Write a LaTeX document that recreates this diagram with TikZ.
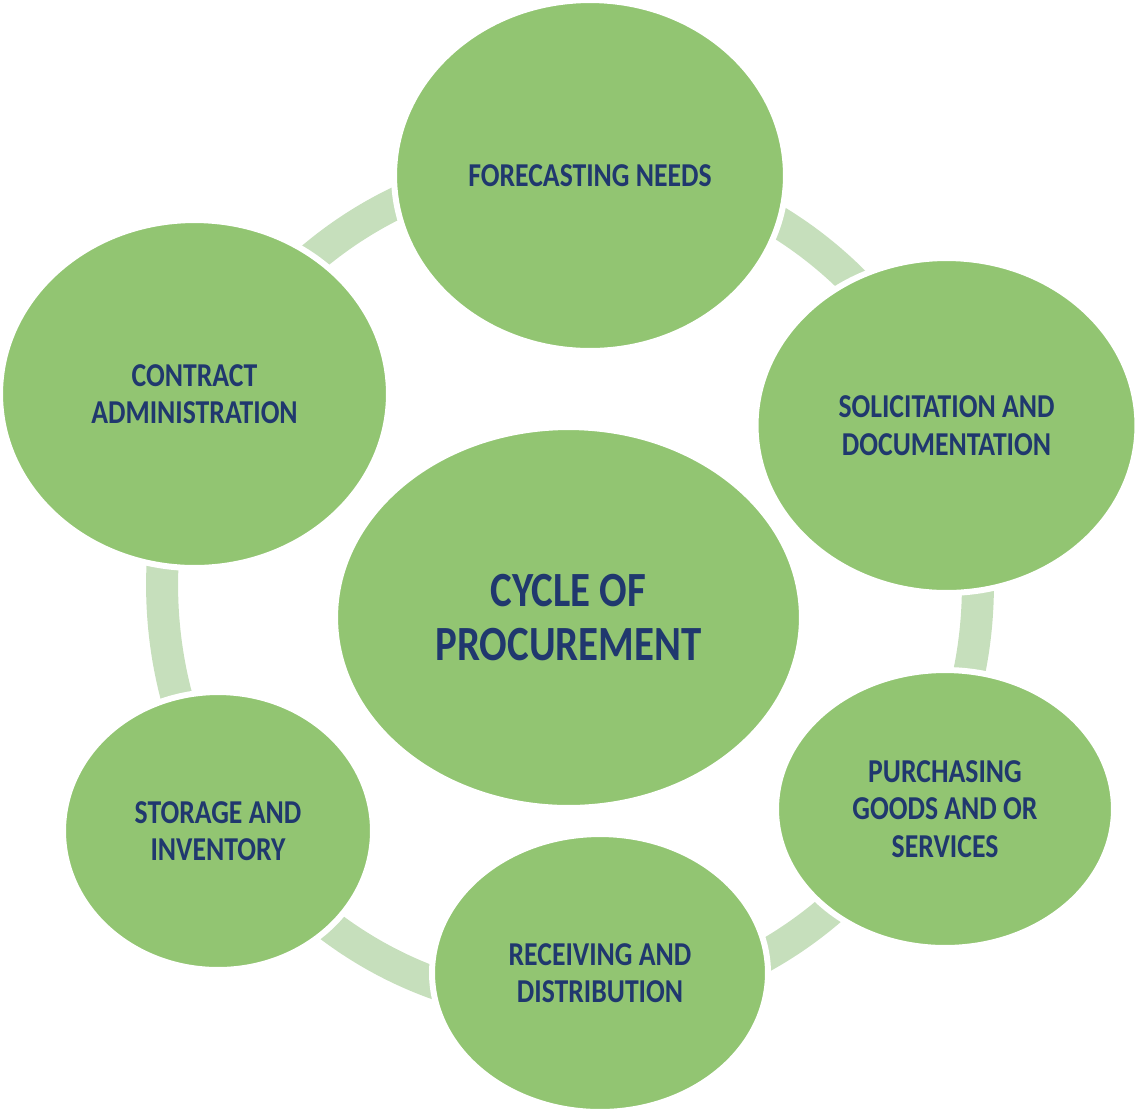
\documentclass[tikz,border=0pt]{standalone}
\usepackage{fontspec}
\newfontfamily\cyclefont{Carlito}[FakeStretch=0.83]
\usetikzlibrary{shapes.geometric}
\usetikzlibrary{backgrounds}
\definecolor{leaf}{RGB}{146,197,114}
\definecolor{pale}{RGB}{198,223,188}
\definecolor{ink}{RGB}{32,56,110}
\tikzset{
  stage/.style={ellipse, fill=leaf, draw=white, line width=0.12cm,
    inner sep=0pt, align=center, text=ink,
    font=\cyclefont\bfseries\fontsize{19}{21.3}\selectfont},
  hub/.style={stage, font=\cyclefont\bfseries\fontsize{28}{30.7}\selectfont},
  ring/.style={draw=pale, line width=0.64cm}
}

\begin{document}
\begin{tikzpicture}[x=0.02cm, y=-0.02cm]

  \useasboundingbox (0,0) rectangle (1135,1110);

  \node[hub, minimum width=9.34cm, minimum height=7.62cm]
    (hub) at (568.5,617.5) {CYCLE OF\\PROCUREMENT};

  \node[stage, minimum width=7.84cm, minimum height=7.02cm]
    (fore) at (590,175.5) {FORECASTING NEEDS};
  \node[stage, minimum width=7.64cm, minimum height=6.70cm]
    (soli) at (946.5,425.5) {SOLICITATION AND\\DOCUMENTATION};
  \node[stage, minimum width=6.76cm, minimum height=5.56cm]
    (purch) at (945,809) {PURCHASING\\GOODS AND OR\\SERVICES};
  \node[stage, minimum width=6.72cm, minimum height=5.56cm]
    (recv) at (600,973) {RECEIVING AND\\DISTRIBUTION};
  \node[stage, minimum width=6.20cm, minimum height=5.56cm]
    (stor) at (218,831) {STORAGE AND\\INVENTORY};
  \node[stage, minimum width=7.78cm, minimum height=6.96cm]
    (cont) at (194.5,394) {CONTRACT\\ADMINISTRATION};

  % pale band behind the six stages
  \begin{scope}[on background layer]
    \coordinate (rim) at (570,585);
    \draw[ring] (rim) ellipse [x radius=8.16cm, y radius=8.44cm];
  \end{scope}

\end{tikzpicture}
\end{document}
